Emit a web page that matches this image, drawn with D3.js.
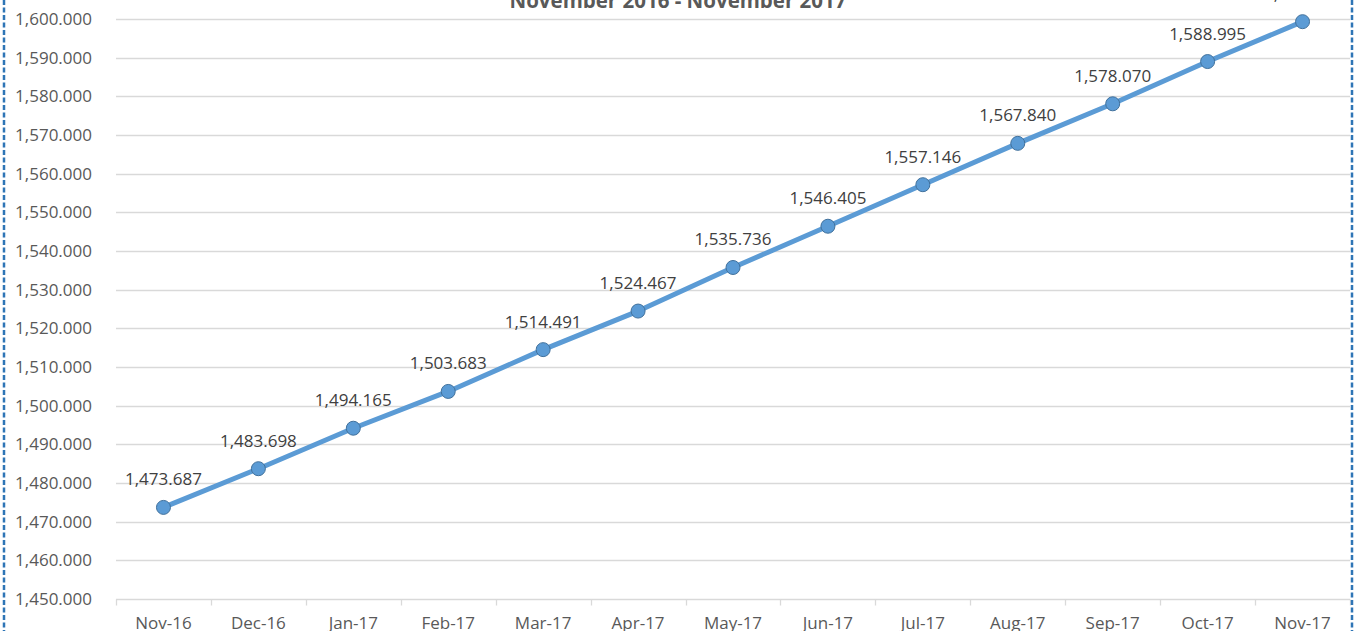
<!DOCTYPE html>
<html>
<head>
<meta charset="utf-8">
<script src="https://cdn.jsdelivr.net/npm/d3@7"></script>
<style>
  body { margin: 0; background: #fff; }
  text { font-family: "Open Sans", "Liberation Sans", sans-serif; }
</style>
</head>
<body>
<div id="chart"></div>
<script>
var months = ["Nov-16","Dec-16","Jan-17","Feb-17","Mar-17","Apr-17","May-17",
              "Jun-17","Jul-17","Aug-17","Sep-17","Oct-17","Nov-17"];
var values = [1473.687, 1483.698, 1494.165, 1503.683, 1514.491, 1524.467, 1535.736,
              1546.405, 1557.146, 1567.840, 1578.070, 1588.995, 1599.310];
var yTicks = d3.range(1450, 1600.001, 10);
var title = "November 2016 - November 2017";

var width = 1356, height = 631;
var margin = {top: 19, right: 6, bottom: 32, left: 116};

var svg = d3.select("#chart").append("svg")
    .attr("width", width)
    .attr("height", height);

var fmt = d3.format(",.3f");

var x = d3.scaleBand()
    .domain(months)
    .range([margin.left, width - margin.right]);

var y = d3.scaleLinear()
    .domain([1450, 1600])
    .range([height - margin.bottom, margin.top]);

// gridlines
svg.append("g")
    .attr("class", "grid")
    .selectAll("line")
    .data(yTicks.slice(1))
    .enter().append("line")
    .attr("x1", margin.left)
    .attr("x2", width - margin.right)
    .attr("y1", function(d) { return Math.round(y(d)) + 0.5; })
    .attr("y2", function(d) { return Math.round(y(d)) + 0.5; })
    .attr("stroke", "#d9d9d9")
    .attr("stroke-width", 1.3);

// y labels
svg.append("g")
    .selectAll("text")
    .data(yTicks)
    .enter().append("text")
    .attr("x", 92)
    .attr("y", function(d) { return y(d) + 6; })
    .attr("text-anchor", "end")
    .attr("font-size", "17px")
    .attr("fill", "#595959")
    .text(fmt);

// x axis
var xAxis = svg.append("g")
    .attr("transform", "translate(0," + (Math.round(y(1450)) + 0.5) + ")");
xAxis.append("line")
    .attr("x1", margin.left).attr("x2", width - margin.right)
    .attr("stroke", "#d9d9d9").attr("stroke-width", 1.3);
xAxis.selectAll("line.tick")
    .data(months.concat([null]))
    .enter().append("line")
    .attr("class", "tick")
    .attr("x1", function(d, i) { return Math.round(margin.left + i * x.step()) + 0.5; })
    .attr("x2", function(d, i) { return Math.round(margin.left + i * x.step()) + 0.5; })
    .attr("y1", 0).attr("y2", 6)
    .attr("stroke", "#d9d9d9").attr("stroke-width", 1.3);
xAxis.selectAll("text")
    .data(months)
    .enter().append("text")
    .attr("x", function(d) { return x(d) + x.bandwidth() / 2; })
    .attr("y", 29)
    .attr("text-anchor", "middle")
    .attr("font-size", "17px")
    .attr("fill", "#595959")
    .text(function(d) { return d; });

// title (cut off at the top)
svg.append("text")
    .attr("x", 678)
    .attr("y", 8)
    .attr("text-anchor", "middle")
    .attr("font-size", "20.5px")
    .attr("font-weight", "bold")
    .attr("fill", "#595959")
    .text(title);

var pts = months.map(function(m, i) { return {m: m, v: values[i]}; });

var line = d3.line()
    .x(function(d) { return x(d.m) + x.bandwidth() / 2; })
    .y(function(d) { return y(d.v); });

svg.append("path")
    .datum(pts)
    .attr("d", line)
    .attr("fill", "none")
    .attr("stroke", "#5b9bd5")
    .attr("stroke-width", 5)
    .attr("stroke-linejoin", "round");

svg.append("g")
    .selectAll("circle")
    .data(pts)
    .enter().append("circle")
    .attr("cx", function(d) { return x(d.m) + x.bandwidth() / 2; })
    .attr("cy", function(d) { return y(d.v); })
    .attr("r", 7)
    .attr("fill", "#5b9bd5")
    .attr("stroke", "#41719c")
    .attr("stroke-width", 1);

// data labels
svg.append("g")
    .selectAll("text")
    .data(pts)
    .enter().append("text")
    .attr("x", function(d) { return x(d.m) + x.bandwidth() / 2; })
    .attr("y", function(d) { return y(d.v) - 22; })
    .attr("text-anchor", "middle")
    .attr("font-size", "17px")
    .attr("fill", "#404040")
    .text(function(d) { return fmt(d.v); });

// dashed selection border
[4, 1352].forEach(function(bx) {
  svg.append("line")
      .attr("x1", bx).attr("x2", bx)
      .attr("y1", 0).attr("y2", height)
      .attr("stroke", "#2e75b6")
      .attr("stroke-width", 2.5)
      .attr("stroke-dasharray", "5,2.5");
});
</script>
</body>
</html>
